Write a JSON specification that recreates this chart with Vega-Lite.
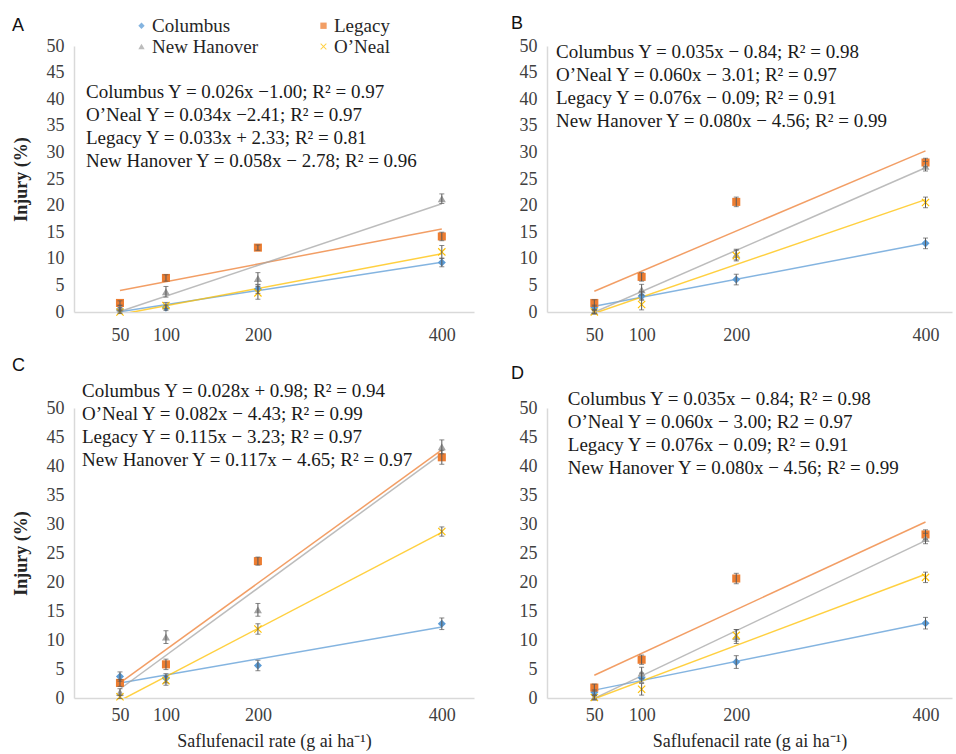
{
  "$schema": "https://vega.github.io/schema/vega-lite/v6.json",
  "padding": {"left": 12, "top": 15, "right": 2, "bottom": 2},
  "autosize": {"type": "pad"},
  "config": {
    "view": {"stroke": null},
    "font": "Liberation Serif",
    "axis": {"labelFont": "Liberation Serif", "labelFontSize": 18, "labelColor": "#404040", "titleFont": "Liberation Serif", "titleFontSize": 18, "titleColor": "#262626", "titleFontWeight": "normal", "domainColor": "#D9D9D9", "domainWidth": 1.5, "ticks": false, "grid": false},
    "title": {"font": "Liberation Sans", "fontSize": 18, "fontWeight": "normal", "anchor": "start", "color": "#111111"},
    "legend": {"labelFont": "Liberation Serif", "labelFontSize": 19, "labelColor": "#262626", "symbolSize": 40, "symbolStrokeWidth": 0, "labelOffset": 1}
  },
  "datasets": {
    "pts": [
      {"panel": "A", "site": "Columbus", "rate": 50, "injury": 0.4, "se": 0.4},
      {"panel": "A", "site": "Columbus", "rate": 100, "injury": 0.8, "se": 0.5},
      {"panel": "A", "site": "Columbus", "rate": 200, "injury": 4.3, "se": 0.8},
      {"panel": "A", "site": "Columbus", "rate": 400, "injury": 9.3, "se": 0.8},
      {"panel": "A", "site": "Legacy", "rate": 50, "injury": 1.7, "se": 0.4},
      {"panel": "A", "site": "Legacy", "rate": 100, "injury": 6.4, "se": 0.6},
      {"panel": "A", "site": "Legacy", "rate": 200, "injury": 12.1, "se": 0.5},
      {"panel": "A", "site": "Legacy", "rate": 400, "injury": 14.2, "se": 0.8},
      {"panel": "A", "site": "New Hanover", "rate": 50, "injury": 0.8, "se": 0.4},
      {"panel": "A", "site": "New Hanover", "rate": 100, "injury": 3.8, "se": 1.0},
      {"panel": "A", "site": "New Hanover", "rate": 200, "injury": 6.3, "se": 1.1},
      {"panel": "A", "site": "New Hanover", "rate": 400, "injury": 21.3, "se": 0.9},
      {"panel": "A", "site": "O’Neal", "rate": 50, "injury": 0.0, "se": 0.3},
      {"panel": "A", "site": "O’Neal", "rate": 100, "injury": 1.2, "se": 0.6},
      {"panel": "A", "site": "O’Neal", "rate": 200, "injury": 3.6, "se": 1.2},
      {"panel": "A", "site": "O’Neal", "rate": 400, "injury": 11.3, "se": 1.2},

      {"panel": "B", "site": "Columbus", "rate": 50, "injury": 0.9, "se": 0.4},
      {"panel": "B", "site": "Columbus", "rate": 100, "injury": 3.0, "se": 0.8},
      {"panel": "B", "site": "Columbus", "rate": 200, "injury": 6.1, "se": 1.0},
      {"panel": "B", "site": "Columbus", "rate": 400, "injury": 12.9, "se": 1.0},
      {"panel": "B", "site": "Legacy", "rate": 50, "injury": 1.7, "se": 0.6},
      {"panel": "B", "site": "Legacy", "rate": 100, "injury": 6.6, "se": 0.8},
      {"panel": "B", "site": "Legacy", "rate": 200, "injury": 20.7, "se": 0.9},
      {"panel": "B", "site": "Legacy", "rate": 400, "injury": 28.1, "se": 0.8},
      {"panel": "B", "site": "New Hanover", "rate": 50, "injury": 0.1, "se": 0.3},
      {"panel": "B", "site": "New Hanover", "rate": 100, "injury": 4.2, "se": 1.0},
      {"panel": "B", "site": "New Hanover", "rate": 200, "injury": 10.8, "se": 1.0},
      {"panel": "B", "site": "New Hanover", "rate": 400, "injury": 27.4, "se": 0.9},
      {"panel": "B", "site": "O’Neal", "rate": 50, "injury": 0.0, "se": 0.3},
      {"panel": "B", "site": "O’Neal", "rate": 100, "injury": 1.4, "se": 1.0},
      {"panel": "B", "site": "O’Neal", "rate": 200, "injury": 10.6, "se": 1.0},
      {"panel": "B", "site": "O’Neal", "rate": 400, "injury": 20.6, "se": 1.0},

      {"panel": "C", "site": "Columbus", "rate": 50, "injury": 3.7, "se": 0.8},
      {"panel": "C", "site": "Columbus", "rate": 100, "injury": 3.4, "se": 0.8},
      {"panel": "C", "site": "Columbus", "rate": 200, "injury": 5.6, "se": 0.9},
      {"panel": "C", "site": "Columbus", "rate": 400, "injury": 12.8, "se": 1.0},
      {"panel": "C", "site": "Legacy", "rate": 50, "injury": 2.6, "se": 0.6},
      {"panel": "C", "site": "Legacy", "rate": 100, "injury": 5.8, "se": 0.9},
      {"panel": "C", "site": "Legacy", "rate": 200, "injury": 23.6, "se": 0.7},
      {"panel": "C", "site": "Legacy", "rate": 400, "injury": 41.5, "se": 1.2},
      {"panel": "C", "site": "New Hanover", "rate": 50, "injury": 1.0, "se": 0.6},
      {"panel": "C", "site": "New Hanover", "rate": 100, "injury": 10.5, "se": 1.1},
      {"panel": "C", "site": "New Hanover", "rate": 200, "injury": 15.2, "se": 1.1},
      {"panel": "C", "site": "New Hanover", "rate": 400, "injury": 43.3, "se": 1.2},
      {"panel": "C", "site": "O’Neal", "rate": 50, "injury": 0.2, "se": 0.3},
      {"panel": "C", "site": "O’Neal", "rate": 100, "injury": 3.0, "se": 0.8},
      {"panel": "C", "site": "O’Neal", "rate": 200, "injury": 11.9, "se": 0.9},
      {"panel": "C", "site": "O’Neal", "rate": 400, "injury": 28.7, "se": 0.8},

      {"panel": "D", "site": "Columbus", "rate": 50, "injury": 1.0, "se": 0.4},
      {"panel": "D", "site": "Columbus", "rate": 100, "injury": 3.5, "se": 0.8},
      {"panel": "D", "site": "Columbus", "rate": 200, "injury": 6.2, "se": 1.1},
      {"panel": "D", "site": "Columbus", "rate": 400, "injury": 12.9, "se": 1.0},
      {"panel": "D", "site": "Legacy", "rate": 50, "injury": 1.8, "se": 0.6},
      {"panel": "D", "site": "Legacy", "rate": 100, "injury": 6.6, "se": 0.8},
      {"panel": "D", "site": "Legacy", "rate": 200, "injury": 20.6, "se": 0.9},
      {"panel": "D", "site": "Legacy", "rate": 400, "injury": 28.2, "se": 0.8},
      {"panel": "D", "site": "New Hanover", "rate": 50, "injury": 0.1, "se": 0.3},
      {"panel": "D", "site": "New Hanover", "rate": 100, "injury": 4.3, "se": 1.0},
      {"panel": "D", "site": "New Hanover", "rate": 200, "injury": 10.6, "se": 1.2},
      {"panel": "D", "site": "New Hanover", "rate": 400, "injury": 27.5, "se": 0.9},
      {"panel": "D", "site": "O’Neal", "rate": 50, "injury": 0.1, "se": 0.3},
      {"panel": "D", "site": "O’Neal", "rate": 100, "injury": 1.5, "se": 1.0},
      {"panel": "D", "site": "O’Neal", "rate": 200, "injury": 10.8, "se": 1.0},
      {"panel": "D", "site": "O’Neal", "rate": 400, "injury": 20.8, "se": 0.9}
    ],
    "eqs": [
      {"panel": "A", "eq": ["Columbus Y = 0.026x −1.00; R² = 0.97", "O’Neal Y = 0.034x −2.41; R² = 0.97", "Legacy Y = 0.033x + 2.33; R² = 0.81", "New Hanover Y = 0.058x − 2.78; R² = 0.96"]},
      {"panel": "B", "eq": ["Columbus Y = 0.035x − 0.84; R² = 0.98", "O’Neal Y = 0.060x − 3.01; R² = 0.97", "Legacy Y = 0.076x − 0.09; R² = 0.91", "New Hanover Y = 0.080x − 4.56; R² = 0.99"]},
      {"panel": "C", "eq": ["Columbus Y = 0.028x + 0.98; R² = 0.94", "O’Neal Y = 0.082x − 4.43; R² = 0.99", "Legacy Y = 0.115x − 3.23; R² = 0.97", "New Hanover Y = 0.117x − 4.65; R² = 0.97"]},
      {"panel": "D", "eq": ["Columbus Y = 0.035x − 0.84; R² = 0.98", "O’Neal Y = 0.060x − 3.00; R2 = 0.97", "Legacy Y = 0.076x − 0.09; R² = 0.91", "New Hanover Y = 0.080x − 4.56; R² = 0.99"]}
    ]
  },
  "bounds": "flush",
  "align": "each",
  "columns": 2,
  "spacing": {"row": 96, "column": 73},
  "concat": [
    {
      "width": 400, "height": 266,
      "title": {"text": "A", "frame": "bounds", "offset": 2},
      "layer": [
        {"data": {"name": "pts"}, "transform": [{"filter": "datum.panel === 'A'"}, {"regression": "injury", "on": "rate", "groupby": ["site"], "extent": [50, 400]}], "mark": {"type": "line", "clip": true, "strokeWidth": 1.5, "opacity": 0.75},
         "encoding": {
          "x": {"field": "rate", "type": "quantitative", "scale": {"domain": [0, 435], "nice": false, "zero": false}, "axis": {"values": [50, 100, 200, 400], "title": null, "labelPadding": 14}},
          "y": {"field": "injury", "type": "quantitative", "scale": {"domain": [0, 50], "nice": false}, "axis": {"values": [0, 5, 10, 15, 20, 25, 30, 35, 40, 45, 50], "title": "Injury (%)", "titleFontWeight": "bold", "labelPadding": 10, "titlePadding": 16}},
          "color": {"field": "site", "type": "nominal", "scale": {"domain": ["Columbus", "Legacy", "New Hanover", "O’Neal"], "range": ["#5B9BD5", "#ED7D31", "#A5A5A5", "#FFC000"]}, "legend": {"orient": "none", "legendX": 58, "legendY": -30, "columns": 2, "direction": "horizontal", "columnPadding": 55, "rowPadding": 1, "title": null}}
         }},
        {"data": {"name": "pts"}, "transform": [{"filter": "datum.panel === 'A'"}], "mark": {"type": "point", "filled": true, "size": 65, "opacity": 1},
         "encoding": {
          "x": {"field": "rate", "type": "quantitative", "axis": {"values": [50, 100, 200, 400], "title": null, "labelPadding": 14}},
          "y": {"field": "injury", "type": "quantitative", "axis": {"values": [0, 5, 10, 15, 20, 25, 30, 35, 40, 45, 50], "title": "Injury (%)", "titleFontWeight": "bold", "labelPadding": 10, "titlePadding": 16}},
          "color": {"field": "site", "type": "nominal"},
          "shape": {"field": "site", "type": "nominal", "scale": {"domain": ["Columbus", "Legacy", "New Hanover", "O’Neal"], "range": ["diamond", "square", "triangle-up", "M-1,-0.8L-0.8,-1L0,-0.2L0.8,-1L1,-0.8L0.2,0L1,0.8L0.8,1L0,0.2L-0.8,1L-1,0.8L-0.2,0Z"]}, "legend": {"orient": "none", "legendX": 58, "legendY": -30, "columns": 2, "direction": "horizontal", "columnPadding": 55, "rowPadding": 1, "title": null}}
         }},
        {"data": {"name": "pts"}, "transform": [{"filter": "datum.panel === 'A'"}], "mark": {"type": "errorbar", "ticks": true, "thickness": 1, "color": "#595959"},
         "encoding": {"x": {"field": "rate", "type": "quantitative", "axis": {"values": [50, 100, 200, 400], "title": null, "labelPadding": 14}}, "y": {"field": "injury", "type": "quantitative", "axis": {"values": [0, 5, 10, 15, 20, 25, 30, 35, 40, 45, 50], "title": "Injury (%)", "titleFontWeight": "bold", "labelPadding": 10, "titlePadding": 16}}, "yError": {"field": "se"}}},
        {"data": {"name": "eqs"}, "transform": [{"filter": "datum.panel === 'A'"}], "mark": {"type": "text", "align": "left", "baseline": "top", "font": "Liberation Serif", "fontSize": 19, "lineHeight": 23, "color": "#1a1a1a"},
         "encoding": {"x": {"datum": 13, "axis": {"values": [50, 100, 200, 400], "title": null, "labelPadding": 14}}, "y": {"datum": 43, "axis": {"values": [0, 5, 10, 15, 20, 25, 30, 35, 40, 45, 50], "title": "Injury (%)", "titleFontWeight": "bold", "labelPadding": 10, "titlePadding": 16}}, "text": {"field": "eq", "type": "nominal"}}}
      ]
    },
    {
      "width": 405, "height": 266,
      "title": {"text": "B", "frame": "group", "dx": -36, "offset": 4},
      "layer": [
        {"data": {"name": "pts"}, "transform": [{"filter": "datum.panel === 'B'"}, {"regression": "injury", "on": "rate", "groupby": ["site"], "extent": [50, 400]}], "mark": {"type": "line", "clip": true, "strokeWidth": 1.5, "opacity": 0.75},
         "encoding": {
          "x": {"field": "rate", "type": "quantitative", "scale": {"domain": [0, 428], "nice": false, "zero": false}, "axis": {"values": [50, 100, 200, 400], "title": null, "labelPadding": 14}},
          "y": {"field": "injury", "type": "quantitative", "scale": {"domain": [0, 50], "nice": false}, "axis": {"values": [0, 5, 10, 15, 20, 25, 30, 35, 40, 45, 50], "title": null, "labelPadding": 10}},
          "color": {"field": "site", "type": "nominal"}
         }},
        {"data": {"name": "pts"}, "transform": [{"filter": "datum.panel === 'B'"}], "mark": {"type": "point", "filled": true, "size": 65, "opacity": 1},
         "encoding": {"x": {"field": "rate", "type": "quantitative", "axis": {"values": [50, 100, 200, 400], "title": null, "labelPadding": 14}}, "y": {"field": "injury", "type": "quantitative", "axis": {"values": [0, 5, 10, 15, 20, 25, 30, 35, 40, 45, 50], "title": null, "labelPadding": 10}}, "color": {"field": "site", "type": "nominal"}, "shape": {"field": "site", "type": "nominal"}}},
        {"data": {"name": "pts"}, "transform": [{"filter": "datum.panel === 'B'"}], "mark": {"type": "errorbar", "ticks": true, "thickness": 1, "color": "#595959"},
         "encoding": {"x": {"field": "rate", "type": "quantitative", "axis": {"values": [50, 100, 200, 400], "title": null, "labelPadding": 14}}, "y": {"field": "injury", "type": "quantitative", "axis": {"values": [0, 5, 10, 15, 20, 25, 30, 35, 40, 45, 50], "title": null, "labelPadding": 10}}, "yError": {"field": "se"}}},
        {"data": {"name": "eqs"}, "transform": [{"filter": "datum.panel === 'B'"}], "mark": {"type": "text", "align": "left", "baseline": "top", "font": "Liberation Serif", "fontSize": 19, "lineHeight": 23, "color": "#1a1a1a"},
         "encoding": {"x": {"datum": 9.5, "axis": {"values": [50, 100, 200, 400], "title": null, "labelPadding": 14}}, "y": {"datum": 50.6, "axis": {"values": [0, 5, 10, 15, 20, 25, 30, 35, 40, 45, 50], "title": null, "labelPadding": 10}}, "text": {"field": "eq", "type": "nominal"}}}
      ]
    },
    {
      "width": 400, "height": 290,
      "title": {"text": "C", "frame": "bounds", "offset": 7},
      "layer": [
        {"data": {"name": "pts"}, "transform": [{"filter": "datum.panel === 'C'"}, {"regression": "injury", "on": "rate", "groupby": ["site"], "extent": [50, 400]}], "mark": {"type": "line", "clip": true, "strokeWidth": 1.5, "opacity": 0.75},
         "encoding": {
          "x": {"field": "rate", "type": "quantitative", "scale": {"domain": [0, 435], "nice": false, "zero": false}, "axis": {"values": [50, 100, 200, 400], "title": "Saflufenacil rate (g ai ha⁻¹)", "labelPadding": 8, "titlePadding": 8}},
          "y": {"field": "injury", "type": "quantitative", "scale": {"domain": [0, 50], "nice": false}, "axis": {"values": [0, 5, 10, 15, 20, 25, 30, 35, 40, 45, 50], "title": "Injury (%)", "titleFontWeight": "bold", "labelPadding": 10, "titlePadding": 16}},
          "color": {"field": "site", "type": "nominal"}
         }},
        {"data": {"name": "pts"}, "transform": [{"filter": "datum.panel === 'C'"}], "mark": {"type": "point", "filled": true, "size": 65, "opacity": 1},
         "encoding": {"x": {"field": "rate", "type": "quantitative", "axis": {"values": [50, 100, 200, 400], "title": "Saflufenacil rate (g ai ha⁻¹)", "labelPadding": 8, "titlePadding": 8}}, "y": {"field": "injury", "type": "quantitative", "axis": {"values": [0, 5, 10, 15, 20, 25, 30, 35, 40, 45, 50], "title": "Injury (%)", "titleFontWeight": "bold", "labelPadding": 10, "titlePadding": 16}}, "color": {"field": "site", "type": "nominal"}, "shape": {"field": "site", "type": "nominal"}}},
        {"data": {"name": "pts"}, "transform": [{"filter": "datum.panel === 'C'"}], "mark": {"type": "errorbar", "ticks": true, "thickness": 1, "color": "#595959"},
         "encoding": {"x": {"field": "rate", "type": "quantitative", "axis": {"values": [50, 100, 200, 400], "title": "Saflufenacil rate (g ai ha⁻¹)", "labelPadding": 8, "titlePadding": 8}}, "y": {"field": "injury", "type": "quantitative", "axis": {"values": [0, 5, 10, 15, 20, 25, 30, 35, 40, 45, 50], "title": "Injury (%)", "titleFontWeight": "bold", "labelPadding": 10, "titlePadding": 16}}, "yError": {"field": "se"}}},
        {"data": {"name": "eqs"}, "transform": [{"filter": "datum.panel === 'C'"}], "mark": {"type": "text", "align": "left", "baseline": "top", "font": "Liberation Serif", "fontSize": 19, "lineHeight": 23, "color": "#1a1a1a"},
         "encoding": {"x": {"datum": 8.7, "axis": {"values": [50, 100, 200, 400], "title": "Saflufenacil rate (g ai ha⁻¹)", "labelPadding": 8, "titlePadding": 8}}, "y": {"datum": 54.5, "axis": {"values": [0, 5, 10, 15, 20, 25, 30, 35, 40, 45, 50], "title": "Injury (%)", "titleFontWeight": "bold", "labelPadding": 10, "titlePadding": 16}}, "text": {"field": "eq", "type": "nominal"}}}
      ]
    },
    {
      "width": 405, "height": 290,
      "title": {"text": "D", "frame": "group", "dx": -36, "offset": 7},
      "layer": [
        {"data": {"name": "pts"}, "transform": [{"filter": "datum.panel === 'D'"}, {"regression": "injury", "on": "rate", "groupby": ["site"], "extent": [50, 400]}], "mark": {"type": "line", "clip": true, "strokeWidth": 1.5, "opacity": 0.75},
         "encoding": {
          "x": {"field": "rate", "type": "quantitative", "scale": {"domain": [0, 428], "nice": false, "zero": false}, "axis": {"values": [50, 100, 200, 400], "title": "Saflufenacil rate (g ai ha⁻¹)", "labelPadding": 8, "titlePadding": 8}},
          "y": {"field": "injury", "type": "quantitative", "scale": {"domain": [0, 50], "nice": false}, "axis": {"values": [0, 5, 10, 15, 20, 25, 30, 35, 40, 45, 50], "title": null, "labelPadding": 10}},
          "color": {"field": "site", "type": "nominal"}
         }},
        {"data": {"name": "pts"}, "transform": [{"filter": "datum.panel === 'D'"}], "mark": {"type": "point", "filled": true, "size": 65, "opacity": 1},
         "encoding": {"x": {"field": "rate", "type": "quantitative", "axis": {"values": [50, 100, 200, 400], "title": "Saflufenacil rate (g ai ha⁻¹)", "labelPadding": 8, "titlePadding": 8}}, "y": {"field": "injury", "type": "quantitative", "axis": {"values": [0, 5, 10, 15, 20, 25, 30, 35, 40, 45, 50], "title": null, "labelPadding": 10}}, "color": {"field": "site", "type": "nominal"}, "shape": {"field": "site", "type": "nominal"}}},
        {"data": {"name": "pts"}, "transform": [{"filter": "datum.panel === 'D'"}], "mark": {"type": "errorbar", "ticks": true, "thickness": 1, "color": "#595959"},
         "encoding": {"x": {"field": "rate", "type": "quantitative", "axis": {"values": [50, 100, 200, 400], "title": "Saflufenacil rate (g ai ha⁻¹)", "labelPadding": 8, "titlePadding": 8}}, "y": {"field": "injury", "type": "quantitative", "axis": {"values": [0, 5, 10, 15, 20, 25, 30, 35, 40, 45, 50], "title": null, "labelPadding": 10}}, "yError": {"field": "se"}}},
        {"data": {"name": "eqs"}, "transform": [{"filter": "datum.panel === 'D'"}], "mark": {"type": "text", "align": "left", "baseline": "top", "font": "Liberation Serif", "fontSize": 19, "lineHeight": 23, "color": "#1a1a1a"},
         "encoding": {"x": {"datum": 22, "axis": {"values": [50, 100, 200, 400], "title": "Saflufenacil rate (g ai ha⁻¹)", "labelPadding": 8, "titlePadding": 8}}, "y": {"datum": 53.1, "axis": {"values": [0, 5, 10, 15, 20, 25, 30, 35, 40, 45, 50], "title": null, "labelPadding": 10}}, "text": {"field": "eq", "type": "nominal"}}}
      ]
    }
  ]
}
